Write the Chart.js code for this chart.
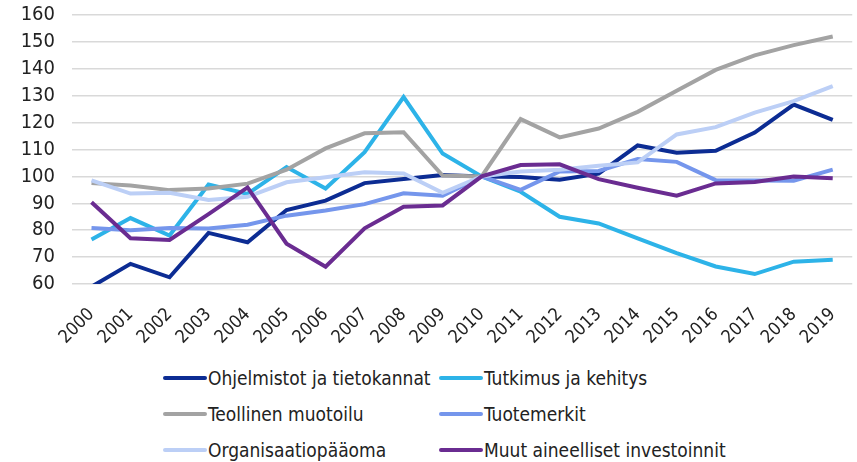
<!DOCTYPE html>
<html lang="fi">
<head>
    <meta charset="UTF-8">
    <title>Aineettomat investoinnit 2000-2019</title>
    <script src="https://cdn.jsdelivr.net/npm/chart.js"></script>
    <style>
        html, body {
            margin: 0;
            padding: 0;
            background: #fff;
            overflow: hidden;
        }

        #wrap {
            position: relative;
            width: 860px;
            height: 462px;
            font-family: 'DejaVu Sans Condensed', 'DejaVu Sans', sans-serif;
        }

        /* kaavio nostettu ylös, jotta 160-viiva osuu kohdalleen */
        .chart-box {
            position: absolute;
            left: 0;
            top: -14px;
            width: 860px;
            height: 364px;
        }

        /* legenda kahdessa sarakkeessa */
        #legend {
            position: absolute;
            left: 163px;
            top: 360px;
            display: grid;
            grid-template-columns: 276px 300px;
            grid-auto-rows: 36px;
        }

        .legend-item {
            display: flex;
            align-items: center;
            font-size: 19px;
            color: #222;
            white-space: nowrap;
        }

        .legend-item span.swatch {
            display: inline-block;
            width: 44px;
            height: 4px;
            border-radius: 2px;
            margin-right: 1px;
        }
    </style>
</head>
<body>
<div id="wrap">
    <div class="chart-box">
        <canvas id="chart"></canvas>
    </div>
    <div id="legend"></div>
</div>

<script>
    // Vuodet
    const years = ['2000', '2001', '2002', '2003', '2004', '2005', '2006', '2007', '2008', '2009',
        '2010', '2011', '2012', '2013', '2014', '2015', '2016', '2017', '2018', '2019'];

    // Indeksi, 2010 = 100
    const ohjelmistot = [59, 67.5, 62.5, 79, 75.5, 87.5, 91, 97.5, 99, 100.5,
        100, 99.8, 98.8, 101, 111.5, 108.8, 109.5, 116.3, 126.7, 121];
    const tutkimus = [76.5, 84.5, 78, 97, 93.5, 103.5, 95.5, 109, 129.5, 108.5,
        100, 94.3, 85, 82.5, 77, 71.5, 66.5, 63.7, 68.3, 69];
    const teollinen = [97.5, 96.6, 94.9, 95.5, 97.3, 102.5, 110.4, 116, 116.4, 100.3,
        100, 121.3, 114.5, 117.8, 124, 131.8, 139.6, 145, 148.8, 152];
    const tuotemerkit = [80.8, 80, 80.8, 80.6, 82, 85.4, 87.3, 89.7, 93.7, 92.8,
        100, 95, 101.8, 102, 106.5, 105.4, 98.6, 98.5, 98.4, 102.5];
    const organisaatio = [98.5, 93.6, 93.9, 91.2, 92.4, 97.8, 99.7, 101.5, 101.1, 93.9,
        100, 101.8, 102.5, 104, 105.2, 115.6, 118.3, 123.7, 128, 133.6];
    const muut = [90.4, 77, 76.4, 86, 95.9, 75, 66.4, 80.7, 88.7, 89.2,
        100, 104.2, 104.5, 99, 95.8, 92.8, 97.4, 97.9, 100, 99.3];

    const seriesNames = ['Ohjelmistot ja tietokannat', 'Tutkimus ja kehitys', 'Teollinen muotoilu',
        'Tuotemerkit', 'Organisaatiopääoma', 'Muut aineelliset investoinnit'];
    const seriesData = [ohjelmistot, tutkimus, teollinen, tuotemerkit, organisaatio, muut];
    const seriesColors = ['#0c2c93', '#2db3e8', '#a3a3a3', '#7596ec', '#bccff6', '#6a2c91'];

    const FONT = "'DejaVu Sans Condensed', 'DejaVu Sans', sans-serif";

    const datasets = seriesNames.map((name, i) => ({
        label: name,
        data: seriesData[i],
        borderColor: seriesColors[i],
        backgroundColor: seriesColors[i],
        borderWidth: 4,
        pointRadius: 0,
        tension: 0,
        fill: false,
        // viimeinen sarja päällimmäiseksi
        order: seriesNames.length - i
    }));

    const ctx = document.getElementById('chart').getContext('2d');
    const chart = new Chart(ctx, {
        type: 'line',
        data: {
            labels: years,
            datasets: datasets
        },
        options: {
            responsive: true,
            maintainAspectRatio: false,
            animation: false,
            layout: {
                padding: 0
            },
            plugins: {
                legend: {display: false},
                tooltip: {enabled: false}
            },
            scales: {
                x: {
                    offset: true,
                    grid: {display: false},
                    border: {display: false},
                    ticks: {
                        color: '#222',
                        font: {family: FONT, size: 18},
                        maxRotation: 45,
                        minRotation: 45,
                        padding: 12,
                        autoSkip: false
                    },
                    afterFit: scale => {
                        scale.height = 66;
                    }
                },
                y: {
                    min: 60,
                    max: 160,
                    border: {display: false},
                    grid: {
                        color: '#d9d9d9',
                        lineWidth: 1.5,
                        drawTicks: false
                    },
                    ticks: {
                        stepSize: 10,
                        autoSkip: false,
                        color: '#222',
                        font: {family: FONT, size: 20},
                        padding: 17
                    },
                    afterFit: scale => {
                        scale.width = 72;
                    }
                }
            }
        }
    });

    // HTML-legenda
    const legendEl = document.getElementById('legend');
    seriesNames.forEach((name, i) => {
        const item = document.createElement('div');
        item.className = 'legend-item';
        const sw = document.createElement('span');
        sw.className = 'swatch';
        sw.style.background = seriesColors[i];
        item.appendChild(sw);
        item.appendChild(document.createTextNode(name));
        legendEl.appendChild(item);
    });
</script>
</body>
</html>
